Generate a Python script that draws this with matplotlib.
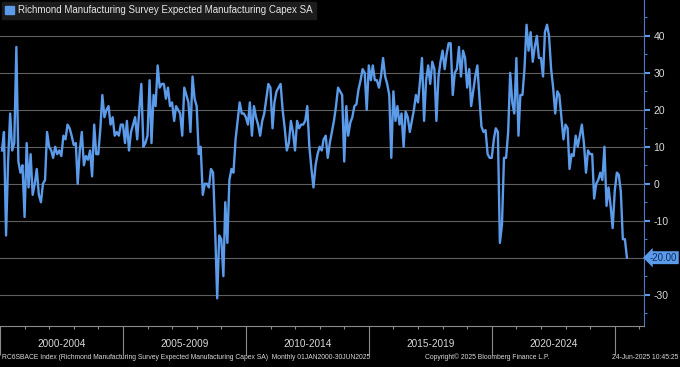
import matplotlib
matplotlib.use("Agg")
import matplotlib.pyplot as plt
import matplotlib.transforms as mtransforms
from matplotlib.patches import Rectangle
from matplotlib.ticker import MultipleLocator
import matplotlib.dates as mdates
import pandas as pd

# monthly readings, Jan 2000 -> Jun 2025
values = [
    9, 14, -14, 6, 19, 9, 11, 37, 6, 3, 5, -9,
    11, -1, 8, -3, 0, 4, -3, -5, 0, 1, 14, 10,
    9, 7, 10, 8, 9, 7.5, 13, 12, 16, 15, 13, 10.5,
    11, 0, 9, 14, 5, 7.5, 6.5, 9, 2, 16, 8, 8,
    15, 24, 18, 20, 21, 16, 18, 13, 14, 13, 16, 16,
    11, 17, 9, 14, 16, 18, 12, 20, 27, 10, 11, 13,
    28, 11, 24, 21, 32, 26, 27, 27, 23, 26, 21, 22,
    17, 21, 20, 19, 13, 26, 24, 22, 14, 29, 23, 21,
    8, 10, -3, 0, 0, -1, 4, 3, -12, -31, -14, -15,
    -25, -5, -16, 1, 4, 3, 12, 17, 22, 19, 19, 18,
    16, 22, 13, 21, 18, 16, 13, 17, 19, 23, 27, 26,
    15, 22, 25, 26, 27, 20, 15, 9, 11, 17, 14, 9,
    17, 15, 16, 16, 17, 21, 10, 4, -1, 5, 8, 10,
    9, 12, 13, 7, 11, 14, 17, 21, 26, 25, 24, 6,
    21, 13, 16.5, 18, 21, 21.5, 25.5, 28, 31, 30, 20, 32,
    28, 32, 28, 28, 26, 29, 34, 29, 27, 24, 7, 25,
    17, 21, 16, 19, 10, 19.5, 18, 14, 17, 20, 24, 22,
    28, 34, 17, 28, 32, 27, 33, 31, 17, 29, 33, 36,
    31, 35, 38, 38, 24, 30, 31, 37, 29, 36, 34, 26,
    31, 21, 25, 29, 32, 23.6, 15.5, 14, 14.5, 8, 7, 7,
    12, 15, 14, -16, -11, 7, 7, 14, 30, 22, 19, 34,
    13, 24, 24, 31, 43, 36, 41, 33, 37, 40, 34, 34,
    29, 41, 43, 40, 31, 26, 19, 25, 24, 18, 12, 16,
    15, 4, 8, 7.5, 13, 10, 13, 16, 11, 3, 9, 8,
    8, -4, 0, 1, 3, 1, 10, -6, -1, -6, -12, -2,
    3, 2.5, -2, -15, -15, -20,
]
dates = pd.date_range("2000-01-31", periods=len(values), freq="ME")

period_starts = [2000, 2005, 2010, 2015, 2020, 2025]
period_labels = ["2000-2004", "2005-2009", "2010-2014", "2015-2019", "2020-2024"]
yticks = [-30, -20, -10, 0, 10, 20, 30, 40]

series_name = "Richmond Manufacturing Survey Expected Manufacturing Capex SA"
footer_left = ("RC6SBACE Index (Richmond Manufacturing Survey Expected Manufacturing Capex SA)"
               "  Monthly 01JAN2000-30JUN2025")
footer_mid = "Copyright\u00a9 2025 Bloomberg Finance L.P."
footer_right = "24-Jun-2025 10:45:25"

plt.rcParams["font.family"] = ["Liberation Sans", "DejaVu Sans"]

line_color = "#5b9bea"
grid_color = "#5f5f5f"
text_color = "#d9d9d9"

fig = plt.figure(figsize=(6.8, 3.67), dpi=100, facecolor="black")
ax = fig.add_axes([0, 0.1125, 0.947, 0.8875])
ax.set_facecolor("black")

ax.plot(dates, values, color=line_color, lw=1.7, zorder=3)

ax.set_xlim(pd.Timestamp("2000-01-22"), pd.Timestamp("2026-03-10"))
ax.set_ylim(-38.4, 49.7)

# right value axis (the last-value tag sits where -20 would be)
ax.yaxis.tick_right()
ax.set_yticks(yticks, labels=["" if v == values[-1] else str(v) for v in yticks])
ax.yaxis.set_minor_locator(MultipleLocator(5))
ax.tick_params(axis="y", which="major", colors=text_color, labelsize=7.5,
               length=4, width=1.5, pad=3)
ax.tick_params(axis="y", which="major", color=line_color)
ax.tick_params(axis="y", which="minor", length=2.5, width=0.8, color="#4d7cc2")
ax.grid(axis="y", which="major", color=grid_color, lw=0.8)
ax.set_axisbelow(True)

# time axis: long separators every 5 years, small ticks every year
ax.set_xticks([pd.Timestamp(f"{y}-01-01") for y in period_starts])
ax.set_xticklabels([])
ax.xaxis.set_minor_locator(mdates.YearLocator(1))
ax.tick_params(axis="x", which="major", length=21, width=0.8, color="#8a8a8a")
ax.tick_params(axis="x", which="minor", length=2.5, width=0.8, color="#8a8a8a")

for y0, lab in zip(period_starts, period_labels):
    mid = pd.Timestamp(f"{y0 + 2}-07-02")
    ax.text(mid, -0.056, lab, transform=ax.get_xaxis_transform(),
            ha="center", va="center", fontsize=7.2, color=text_color)

for side in ["top", "left"]:
    ax.spines[side].set_visible(False)
ax.spines["right"].set_color("#4d7cc2")
ax.spines["bottom"].set_color("#8a8a8a")

# last value tag, pinned to the right edge of the picture
tag_tr = mtransforms.blended_transform_factory(fig.transFigure, ax.transData)
ax.text(0.996, values[-1], f"{values[-1]:.2f}", transform=tag_tr,
        ha="right", va="center", fontsize=7, color="#0d2a5c",
        bbox=dict(boxstyle="larrow,pad=0.15", fc=line_color, ec="none"),
        clip_on=False, zorder=5)

leg = ax.legend(handles=[Rectangle((0, 0), 1, 1, color=line_color)],
                labels=[series_name], loc="upper left",
                bbox_to_anchor=(0.0, 1.0), borderaxespad=0.2,
                fontsize=7, labelcolor="#e6e6e6", fancybox=False,
                facecolor="#1c1c1c", edgecolor="#1c1c1c", framealpha=1,
                handlelength=0.9, handleheight=0.9, handletextpad=0.4,
                borderpad=0.35)
leg.set_zorder(6)

fig.text(0.003, 0.027, footer_left, fontsize=4.9, color=text_color, va="center")
fig.text(0.625, 0.027, footer_mid, fontsize=4.9, color=text_color, va="center")
fig.text(0.997, 0.027, footer_right, fontsize=4.9, color=text_color,
         va="center", ha="right")

fig.savefig("out.png", dpi=100, facecolor="black")
